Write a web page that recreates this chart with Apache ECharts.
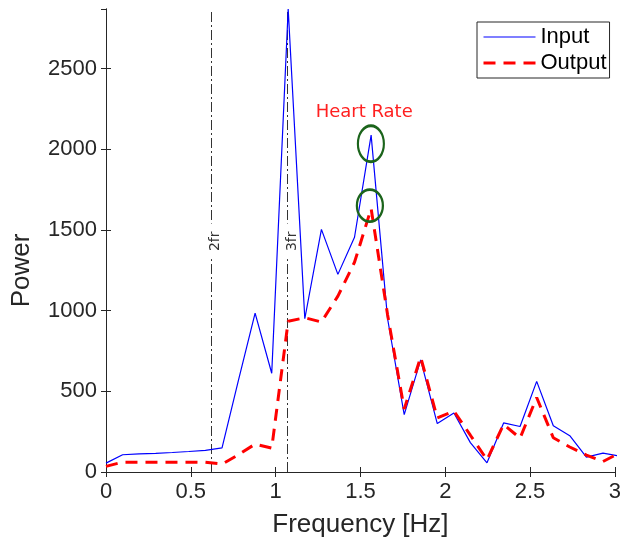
<!DOCTYPE html>
<html>
<head>
<meta charset="utf-8">
<script src="https://cdn.jsdelivr.net/npm/echarts@6/dist/echarts.min.js"></script>
<style>
html,body{margin:0;padding:0;background:#fff;}
#chart{width:624px;height:549px;}
</style>
</head>
<body>
<div id="chart"></div>
<script>
// ---- data ----
const frequency = [0, 0.098, 0.195, 0.293, 0.391, 0.488, 0.586, 0.684, 0.781, 0.879, 0.977, 1.074, 1.172, 1.270, 1.367, 1.465, 1.563, 1.660, 1.758, 1.855, 1.953, 2.051, 2.148, 2.246, 2.344, 2.441, 2.539, 2.637, 2.734, 2.832, 2.930, 3.027];
const inputPower  = [55, 107, 112, 116, 121, 127, 134, 150, 570, 985, 612, 2870, 950, 1504, 1225, 1455, 2088, 950, 356, 695, 300, 366, 182, 57, 304, 282, 562, 287, 225, 92, 117, 99];
const outputPower = [35, 61, 61, 61, 61, 61, 60, 49, 107, 173, 148, 935, 956, 930, 1090, 1300, 1633, 975, 390, 712, 335, 378, 228, 76, 295, 210, 462, 212, 155, 105, 65, 118];
const seriesNames = ['Input', 'Output'];
const harmonicFreqs = [0.617, 1.070];
const harmonicLabels = ['2fr', '3fr'];
const harmonicLabelPower = 1430;
const heartRateCircles = [[1.5616, 2035], [1.5557, 1651]];
const heartRateCircleSizes = [[26, 36], [26, 32]];
const heartRateText = 'Heart Rate';
const heartRateTextPos = [1.522, 2230];
const xMin = 0, xMax = 3, xStep = 0.5;
const yMin = 0, yMax = 2870, yStep = 500;

const FONT = 'Liberation Sans';
const TXT = '#262626';
const ellipsePath = 'path://M0,-1 C0.552,-1 1,-0.552 1,0 C1,0.552 0.552,1 0,1 C-0.552,1 -1,0.552 -1,0 C-1,-0.552 -0.552,-1 0,-1 Z';

const zip = (xs, ys) => xs.map((x, i) => [x, ys[i]]);

const chart = echarts.init(document.getElementById('chart'), null, {renderer: 'canvas'});

const axisLine = {show: true, lineStyle: {color: TXT, width: 1}};
const axisTick = {show: true, inside: true, length: 5, lineStyle: {color: TXT, width: 1}};

const option = {
  animation: false,
  backgroundColor: '#fff',
  grid: {left: 106, right: 7, top: 9, bottom: 77, containLabel: false},
  xAxis: [
    {type: 'value', min: xMin, max: xMax, interval: xStep, position: 'bottom',
     axisLine: axisLine, axisTick: axisTick, splitLine: {show: false},
     axisLabel: {color: TXT, fontSize: 22, fontFamily: FONT, margin: 9, formatter: v => String(v)},
     name: 'Frequency [Hz]', nameLocation: 'middle', nameGap: 40,
     nameTextStyle: {color: TXT, fontSize: 26, fontFamily: FONT}},
    {type: 'value', min: xMin, max: xMax, interval: xStep, position: 'top',
     axisLine: axisLine, axisTick: axisTick, splitLine: {show: false}, axisLabel: {show: false}}
  ],
  yAxis: [
    {type: 'value', min: yMin, max: yMax, interval: yStep, position: 'left',
     axisLine: axisLine, axisTick: axisTick, splitLine: {show: false},
     axisLabel: {color: TXT, fontSize: 22, fontFamily: FONT, margin: 9, showMaxLabel: false, formatter: v => String(v)},
     name: 'Power', nameLocation: 'middle', nameGap: 71,
     nameTextStyle: {color: TXT, fontSize: 26, fontFamily: FONT, padding: [0, 60, 0, 0]}},
    {type: 'value', min: yMin, max: yMax, interval: yStep, position: 'right',
     axisLine: axisLine, axisTick: axisTick, splitLine: {show: false}, axisLabel: {show: false}}
  ],
  legend: {
    orient: 'vertical', left: 477, top: 22,
    itemWidth: 52, itemHeight: 14, itemGap: 4,
    padding: [4, 3, 4, 5],
    borderColor: TXT, borderWidth: 1, backgroundColor: '#fff', borderRadius: 0,
    textStyle: {color: '#000', fontSize: 22, fontFamily: FONT},
    itemStyle: {opacity: 0},
    data: [
      {name: seriesNames[0], lineStyle: {width: 1.2}},
      {name: seriesNames[1], lineStyle: {width: 3}}
    ]
  },
  series: [
    {
      name: seriesNames[0], type: 'line', data: zip(frequency, inputPower),
      symbol: 'none', clip: true, z: 3,
      lineStyle: {color: '#0000ff', width: 1.2},
      itemStyle: {color: '#0000ff'},
      markLine: {
        silent: true, symbol: ['none', 'none'], z: 1,
        lineStyle: {color: '#333', width: 1, type: [10, 3, 2, 3]},
        label: {show: false},
        data: harmonicFreqs.map(f => ({xAxis: f}))
      },
      markPoint: {
        silent: true, z: 2,
        data: harmonicFreqs.map((f, i) => ({
          coord: [f, harmonicLabelPower], symbol: 'circle', symbolSize: 1,
          itemStyle: {color: 'rgba(0,0,0,0)'},
          label: {show: true, position: 'inside', formatter: harmonicLabels[i], rotate: 90,
                  offset: [0, 5], color: '#333', fontSize: 14, fontFamily: 'DejaVu Sans',
                  backgroundColor: '#fff', padding: [1, 8]}
        }))
      }
    },
    {
      name: seriesNames[1], type: 'line', data: zip(frequency, outputPower),
      symbol: 'none', clip: true, z: 4,
      lineStyle: {color: '#ff0000', width: 3, type: [12, 8]},
      itemStyle: {color: '#ff0000'},
      markPoint: {
        silent: true, z: 6,
        data: heartRateCircles.map((c, i) => ({
          coord: c, symbol: ellipsePath, symbolSize: heartRateCircleSizes[i],
          itemStyle: {color: 'rgba(0,0,0,0)', borderColor: '#1b641b', borderWidth: 2.5},
          label: {show: false}
        })).concat([{
          coord: heartRateTextPos, symbol: 'circle', symbolSize: 1,
          itemStyle: {color: 'rgba(0,0,0,0)'},
          label: {show: true, position: 'inside', formatter: heartRateText,
                  color: '#ff2020', fontSize: 18, fontFamily: 'DejaVu Sans'}
        }])
      }
    }
  ]
};
chart.setOption(option);
</script>
</body>
</html>
